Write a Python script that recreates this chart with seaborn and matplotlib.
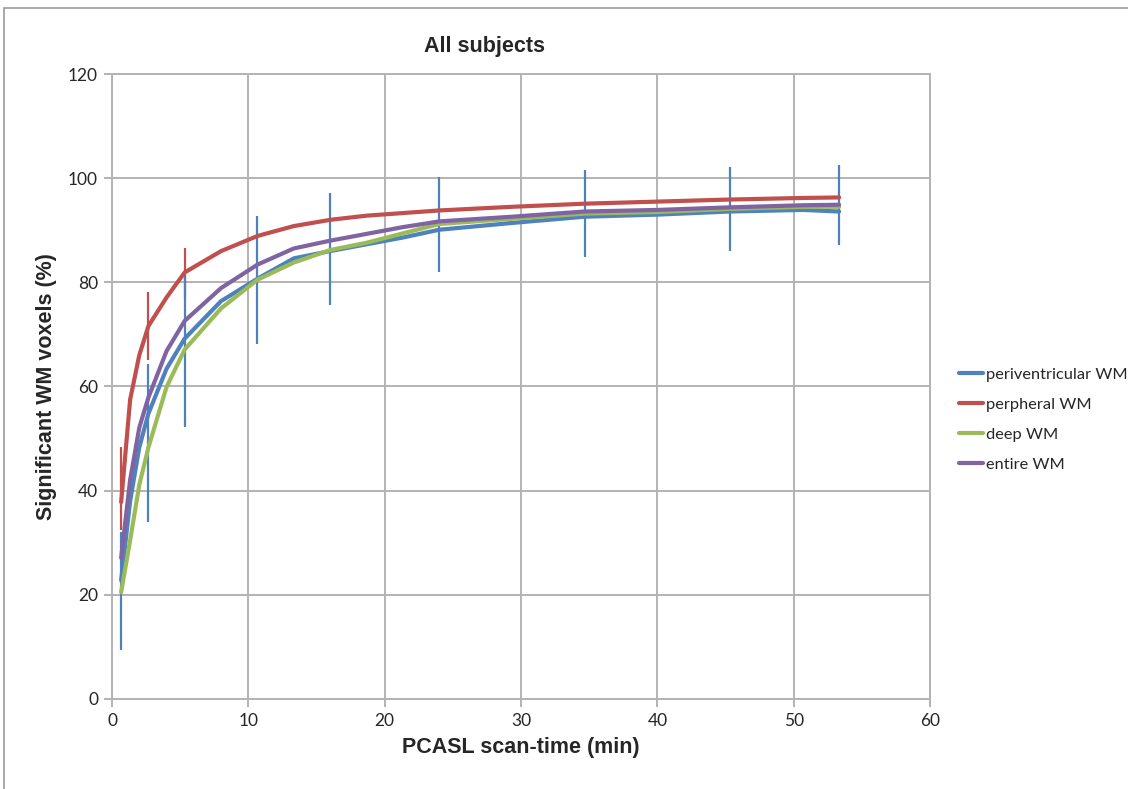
import numpy as np
import pandas as pd
import matplotlib
matplotlib.use("Agg")
import matplotlib.pyplot as plt
from matplotlib.patches import Rectangle
import seaborn as sns

# --- data ---
scan_time = [0.67, 1.33, 2.0, 2.67, 4.0, 5.33, 8.0, 10.67, 13.33, 16.0,
             18.67, 21.33, 24.0, 29.33, 34.67, 40.0, 45.33, 50.67, 53.33]

periventricular = [22.8, 38.0, 48.3, 54.8, 63.4, 69.2, 76.4, 80.7, 84.6, 86.0,
                   87.3, 88.6, 90.1, 91.4, 92.6, 93.0, 93.6, 93.9, 93.6]
peripheral = [37.8, 57.5, 66.0, 71.6, 77.1, 81.9, 86.0, 88.9, 90.8, 92.0,
              92.8, 93.3, 93.8, 94.5, 95.1, 95.5, 95.9, 96.2, 96.3]
deep = [20.5, 30.5, 41.1, 48.3, 59.9, 67.1, 75.0, 80.5, 83.8, 86.2,
        87.6, 89.4, 91.2, 92.2, 93.2, 93.5, 94.1, 94.5, 94.5]
entire = [27.1, 42.1, 52.1, 57.9, 66.8, 72.6, 78.9, 83.4, 86.5, 88.0,
          89.3, 90.6, 91.7, 92.6, 93.6, 93.9, 94.4, 94.8, 94.9]

series_names = ["periventricular WM", "perpheral WM", "deep WM", "entire WM"]
series_colors = ["#4F81BD", "#C0504D", "#9BBB59", "#8064A2"]

# error bar ends (low / high) for periventricular WM
pv_err_x = [0.67, 2.67, 5.33, 10.67, 16.0, 24.0, 34.67, 45.33, 53.33]
pv_err_low = [9.4, 33.9, 52.3, 68.1, 75.6, 81.9, 84.8, 86.0, 87.1]
pv_err_high = [32.1, 64.3, 81.5, 92.8, 97.1, 100.2, 101.6, 102.2, 102.6]

# error bar ends for perpheral WM (only visible at the first points)
pp_err_x = [0.67, 2.67, 5.33]
pp_err_low = [32.4, 65.1, 77.2]
pp_err_high = [48.4, 78.2, 86.6]

# long-form table for seaborn
df = pd.DataFrame({
    "time": scan_time * 4,
    "value": periventricular + peripheral + deep + entire,
    "series": np.repeat(series_names, len(scan_time)),
})

sns.set_style("whitegrid")
plt.rcParams["font.family"] = ["Lato", "DejaVu Sans"]

fig = plt.figure(figsize=(11.28, 7.89), dpi=100)
ax = fig.add_axes([0.0993, 0.1141, 0.7252, 0.7921])

# error bars first so the lines sit on top
ax.vlines(pp_err_x, pp_err_low, pp_err_high, color=series_colors[1], lw=1.6, zorder=2)
ax.vlines(pv_err_x, pv_err_low, pv_err_high, color=series_colors[0], lw=1.6, zorder=2)

sns.lineplot(data=df, x="time", y="value", hue="series", hue_order=series_names,
             palette=series_colors, linewidth=3, ax=ax, zorder=3, legend=True)

ax.set_xlim(0, 60)
ax.set_ylim(0, 120)
ax.set_xticks(range(0, 61, 10))
ax.set_yticks(range(0, 121, 20))
ax.grid(True, color="#b3b3b3", lw=1.4)
for s in ax.spines.values():
    s.set_color("#b3b3b3")
    s.set_linewidth(1.4)
ax.tick_params(axis="both", which="both", length=6, width=1.4, color="#b3b3b3",
               labelsize=12.5, pad=4, direction="out", bottom=True, left=True)

ax.set_title("All subjects", fontsize=15.5, fontweight="bold",
             family="Liberation Sans", pad=16, x=0.455)
ax.set_xlabel("PCASL scan-time (min)", fontsize=15.5, fontweight="bold",
              family="Liberation Sans", labelpad=6)
ax.set_ylabel("Significant WM voxels (%)", fontsize=15.5, fontweight="bold",
              family="Liberation Sans", labelpad=8)

leg = ax.legend(loc="upper left", bbox_to_anchor=(1.027, 0.541), frameon=False,
                fontsize=11.8, handlelength=1.5, handletextpad=0.15,
                labelspacing=0.95, borderaxespad=0)
for h in leg.get_lines():
    h.set_linewidth(3)

# chart area border
fig.patches.append(Rectangle((0.0035, -0.05), 1.1, 0.05 + 0.9899,
                             transform=fig.transFigure, fill=False,
                             edgecolor="#999999", lw=1.2))

fig.savefig("out.png", dpi=100)
